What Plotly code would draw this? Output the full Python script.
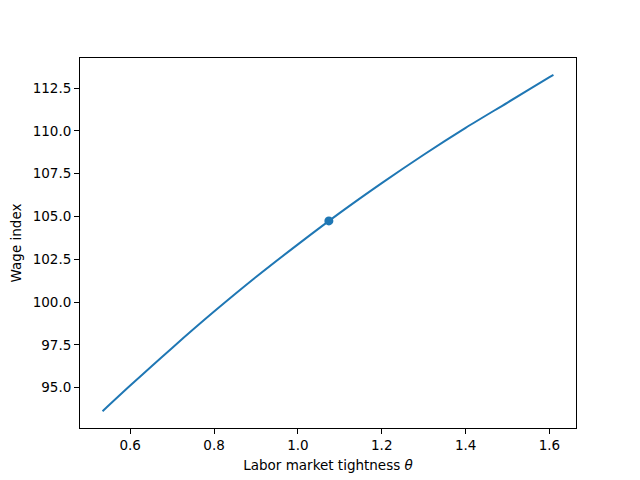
import plotly.graph_objects as go

# Wage index against labor market tightness
theta = [0.534, 0.6, 0.7, 0.8, 0.9, 1.0, 1.1, 1.2, 1.3, 1.4, 1.5, 1.6, 1.6095]
wage = [93.62, 95.12, 97.32, 99.44, 101.46, 103.37, 105.21, 106.95, 108.61, 110.18, 111.66, 113.15, 113.28]

# current point on the curve
theta_now = [1.0738]
wage_now = [104.74]

blue = "#1f77b4"


def padded(vals, frac=0.05):
    lo, hi = min(vals), max(vals)
    pad = (hi - lo) * frac
    return [lo - pad, hi + pad]


fig = go.Figure()
fig.add_trace(go.Scatter(x=theta, y=wage, mode="lines",
                         line=dict(color=blue, width=2, shape="spline", smoothing=0.8),
                         showlegend=False))
fig.add_trace(go.Scatter(x=theta_now, y=wage_now, mode="markers",
                         marker=dict(color=blue, size=9), showlegend=False))

axis_style = dict(
    showgrid=False, zeroline=False,
    showline=True, linecolor="black", linewidth=1, mirror=True,
    ticks="outside", ticklen=5, tickwidth=1, tickcolor="black",
    tickfont=dict(family="DejaVu Sans", size=13.5, color="black"),
    tickformat=".1f",
)

fig.update_xaxes(axis_style, range=padded(theta), dtick=0.2, tick0=0,
                 title=dict(text="Labor market tightness <i>θ</i>", standoff=8,
                            font=dict(family="DejaVu Sans", size=13.5, color="black")))
fig.update_yaxes(axis_style, range=padded(wage), dtick=2.5, tick0=0,
                 title=dict(text="Wage index", standoff=8,
                            font=dict(family="DejaVu Sans", size=13.5, color="black")))

# page body adds an 8px margin, so the figure is 8px smaller each way
fig.update_layout(
    width=632, height=472,
    margin=dict(l=72, r=64, t=50, b=52, autoexpand=False),
    plot_bgcolor="white", paper_bgcolor="white",
)

fig.write_html("out.html")
